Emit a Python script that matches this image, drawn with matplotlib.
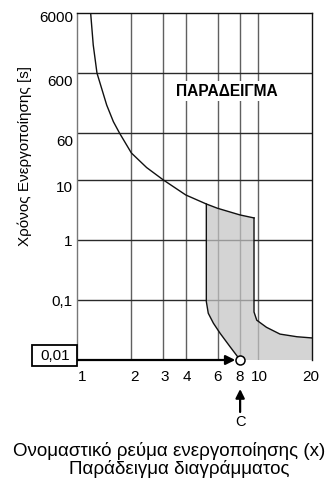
import matplotlib
matplotlib.use("Agg")
import matplotlib.pyplot as plt
from matplotlib.patches import Rectangle
from matplotlib.transforms import ScaledTranslation

plt.rcParams['font.family'] = ['Liberation Sans', 'DejaVu Sans']

# ---- data ----
x_ticks = [1, 2, 3, 4, 6, 8, 10, 20]
x_labels = ["1", "2", "3", "4", "6", "8", "10", "20"]
y_ticks = [0.1, 1, 10, 60, 600, 6000]
y_labels = ["0,1", "1", "10", "60", "600", "6000"]

# upper (slow) tripping curve
upper_x = [1.19, 1.23, 1.29, 1.46, 1.59, 1.72, 2.0, 2.43, 3.0, 4.0, 5.2, 6.0, 8.0, 9.55]
upper_t = [6000, 1760, 600, 176, 93, 60, 28, 16, 10, 5.6, 3.96, 3.36, 2.6, 2.32]
# lower-left boundary of band (min)
lowl_x = [5.2, 5.2, 5.33, 5.69, 6.19, 7.03, 8.0]
lowl_t = [3.96, 0.094, 0.06, 0.041, 0.028, 0.0167, 0.01]
# right boundary of band (max)
lowr_x = [9.55, 9.55, 9.89, 11.2, 13.3, 16.5, 20]
lowr_t = [2.32, 0.063, 0.046, 0.035, 0.027, 0.0244, 0.0233]

point_x = 8
point_t = 0.01

fig = plt.figure(figsize=(3.31, 4.83), dpi=100)
W, H = 331, 483
ax = fig.add_axes([77 / W, 1 - 360 / H, (312 - 77) / W, (360 - 13) / H])
ax.set_xscale('log')
ax.set_yscale('log')
ax.set_xlim(1, 20)
ax.set_ylim(0.01, 6000)

# grid lines
for xv in x_ticks[1:-1]:
    ax.axvline(xv, color='#606060', lw=1.0, zorder=1)
for yv in y_ticks[:-1]:
    ax.axhline(yv, color='#2a2a2a', lw=1.0, zorder=1)

# shaded band polygon
i0 = upper_x.index(5.2)
poly_x = upper_x[i0:] + lowr_x[1:] + [20] + lowl_x[::-1][:-1]
poly_t = upper_t[i0:] + lowr_t[1:] + [0.01] + lowl_t[::-1][:-1]
ax.fill(poly_x, poly_t, color='#c4c4c4', alpha=0.72, lw=0, zorder=2)

ax.plot(upper_x, upper_t, color='#111111', lw=1.0, zorder=3)
ax.plot(lowl_x, lowl_t, color='#111111', lw=1.0, zorder=3)
ax.plot(lowr_x, lowr_t, color='#111111', lw=1.0, zorder=3)

# spines
for s in ['top', 'right']:
    ax.spines[s].set_color('#111111')
    ax.spines[s].set_linewidth(1.0)
ax.spines['left'].set_color('#777777')
ax.spines['left'].set_linewidth(1.0)
ax.spines['bottom'].set_visible(False)

# ticks
ax.set_xticks(x_ticks)
ax.set_xticklabels(x_labels, fontsize=11)
ax.set_xticks([], minor=True)
ax.set_yticks(y_ticks)
ax.set_yticklabels(y_labels, fontsize=11)
ax.set_yticks([], minor=True)
ax.tick_params(axis='both', length=0)
ax.tick_params(axis='x', pad=7)
ax.tick_params(axis='y', pad=3)

y_off = {"0,1": -1, "1": -1, "10": -7, "60": -7, "600": -7, "6000": -4}
for lab in ax.get_yticklabels():
    dy = y_off.get(lab.get_text(), 0)
    lab.set_transform(lab.get_transform() + ScaledTranslation(0, dy / 100, fig.dpi_scale_trans))
x_off = {"1": 5, "2": 3, "3": 2, "4": 1, "10": 2, "20": -1}
for lab in ax.get_xticklabels():
    dx = x_off.get(lab.get_text(), 0)
    lab.set_transform(lab.get_transform() + ScaledTranslation(dx / 100, 0, fig.dpi_scale_trans))

# horizontal arrow to the point
ax.annotate('', xy=(point_x, point_t), xytext=(1, point_t),
            arrowprops=dict(arrowstyle='-|>', lw=1.6, color='black',
                            shrinkA=0, shrinkB=3.5, mutation_scale=14),
            annotation_clip=False, zorder=6)
ax.plot([point_x], [point_t], 'o', mfc='white', mec='black', ms=6.5, mew=1.1,
        clip_on=False, zorder=7)

# box with 0,01
fig.add_artist(Rectangle((32 / W, 1 - 366 / H), 45 / W, 21 / H,
                         transform=fig.transFigure, fc='white', ec='black', lw=1.3, zorder=10))
fig.text(55 / W, 1 - 356 / H, "0,01", fontsize=11, ha='center', va='center', zorder=11)

# vertical arrow + C
ax.annotate('', xy=(point_x, 483 - 389), xytext=(point_x, 483 - 412),
            xycoords=('data', 'figure pixels'), textcoords=('data', 'figure pixels'),
            arrowprops=dict(arrowstyle='-|>', lw=1.6, color='black',
                            shrinkA=0, shrinkB=0, mutation_scale=13),
            annotation_clip=False)
ax.annotate('C', xy=(point_x, 483 - 422), xycoords=('data', 'figure pixels'),
            ha='center', va='center', fontsize=10.5, annotation_clip=False)

# example label
ax.text(0.638, 0.775, "ΠΑΡΑΔΕΙΓΜΑ", transform=ax.transAxes, fontsize=11.2,
        fontweight='bold', ha='center', va='center', zorder=8,
        bbox=dict(fc='white', ec='none', pad=2))

# axis titles
fig.text(25 / W, 1 - 156 / H, "Χρόνος Ενεργοποίησης [s]", rotation=90,
         fontsize=11, ha='center', va='center')
fig.text(169 / W, 1 - 451 / H, "Ονομαστικό ρεύμα ενεργοποίησης (x)",
         fontsize=13.5, ha='center', va='center')
fig.text(179 / W, 1 - 469 / H, "Παράδειγμα διαγράμματος",
         fontsize=13.5, ha='center', va='center')

fig.savefig("out.png", dpi=100)
